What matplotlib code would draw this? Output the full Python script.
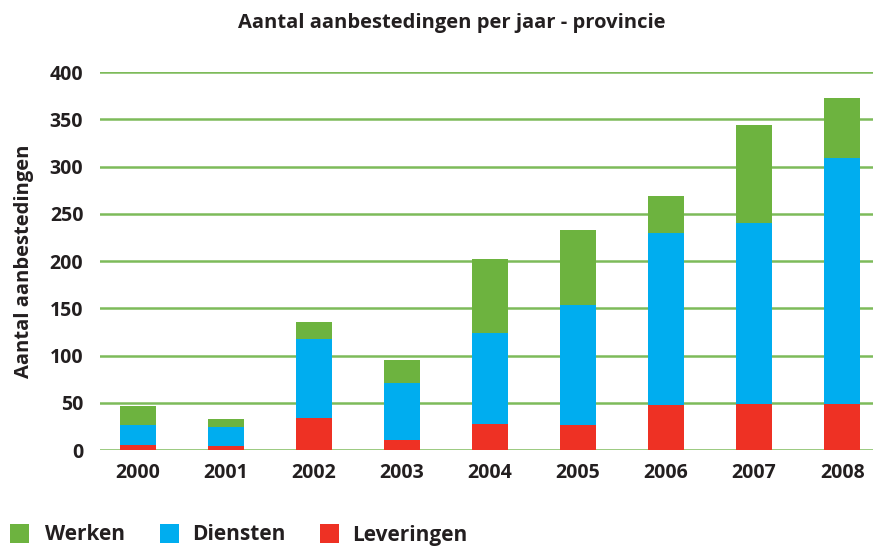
import numpy as np
import matplotlib.pyplot as plt
from matplotlib.patches import Rectangle

plt.rcParams['font.family'] = ['Open Sans', 'DejaVu Sans']

jaren = ['2000', '2001', '2002', '2003', '2004', '2005', '2006', '2007', '2008']
leveringen = [5, 4, 34, 11, 28, 26, 48, 49, 49]
diensten = [21, 20, 83, 60, 96, 127, 182, 191, 260]
werken = [21, 9, 18, 24, 78, 80, 39, 104, 64]

groen = '#6db33f'
blauw = '#00adef'
rood = '#ee3124'
tekst = '#231f20'

W, H = 873, 547
fig = plt.figure(figsize=(W / 100, H / 100), dpi=100)
ax = fig.add_axes([0.1145, 0.1773, 0.8855, 0.691])

x = np.arange(len(jaren))
lev = np.array(leveringen)
die = np.array(diensten)
wer = np.array(werken)
w = 0.41
ax.bar(x, lev, w, color=rood, zorder=3)
ax.bar(x, die, w, bottom=lev, color=blauw, zorder=3)
ax.bar(x, wer, w, bottom=lev + die, color=groen, zorder=3)

ax.set_xlim(-0.43, 8.35)
ax.set_ylim(0, 400)
ax.set_yticks(range(0, 401, 50))
ax.yaxis.grid(True, color='#7dbb5a', lw=1.8, zorder=0)
ax.set_axisbelow(True)
ax.set_xticks(x)
ax.set_xticklabels(jaren)
for s in ax.spines.values():
    s.set_visible(False)
ax.tick_params(axis='x', length=0, pad=9)
ax.tick_params(axis='y', length=0, pad=12)
for t in ax.get_xticklabels() + ax.get_yticklabels():
    t.set_fontweight('bold')
    t.set_fontsize(14)
    t.set_color(tekst)

ax.set_ylabel('Aantal aanbestedingen', fontsize=14.5, fontweight='bold',
              color=tekst, labelpad=11)
fig.text(0.517, 0.958, 'Aantal aanbestedingen per jaar - provincie',
         ha='center', va='center', fontsize=14.5, fontweight='bold', color=tekst)

# legenda onderaan, handmatig geplaatst
legenda = [('Werken', groen, 10, 45), ('Diensten', blauw, 160, 192),
           ('Leveringen', rood, 320, 352)]
for naam, kleur, xs, xt in legenda:
    fig.add_artist(Rectangle((xs / W, (H - 543) / H), 19 / W, 19 / H,
                             transform=fig.transFigure, color=kleur, lw=0))
    fig.text(xt / W, (H - 535) / H, naam, ha='left', va='center',
             fontsize=15, fontweight='bold', color=tekst)

fig.savefig('out.png', dpi=100)
